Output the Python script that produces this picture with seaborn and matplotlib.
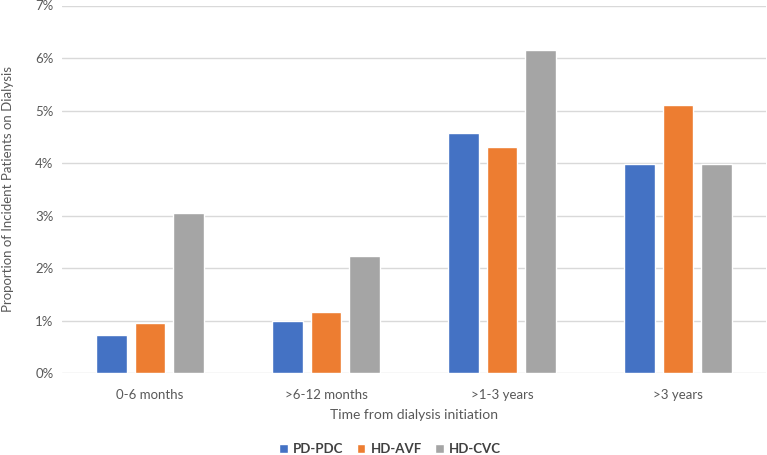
import pandas as pd
import matplotlib.pyplot as plt
import seaborn as sns
from matplotlib.ticker import PercentFormatter
from matplotlib.patches import Patch

# data (percent)
periods = ["0-6 months", ">6-12 months", ">1-3 years", ">3 years"]
access_types = ["PD-PDC", "HD-AVF", "HD-CVC"]
pd_pdc = [0.72, 1.00, 4.57, 3.98]
hd_avf = [0.96, 1.17, 4.30, 5.10]
hd_cvc = [3.05, 2.24, 6.16, 3.98]
colors = ["#4472C4", "#ED7D31", "#A5A5A5"]

rows = []
for name, vals in zip(access_types, [pd_pdc, hd_avf, hd_cvc]):
    for p, v in zip(periods, vals):
        rows.append({"period": p, "access": name, "value": v})
df = pd.DataFrame(rows)

sns.set_style("white")
plt.rcParams["font.family"] = ["Lato", "DejaVu Sans"]

fig = plt.figure(figsize=(7.67, 4.55), dpi=100)
ax = fig.add_axes([62 / 767, 1 - 373.3 / 455, 704 / 767, 367.8 / 455])

sns.barplot(data=df, x="period", y="value", hue="access", order=periods,
            hue_order=access_types, palette=colors, width=0.66, gap=0.2,
            saturation=1, legend=False, ax=ax)

ax.set_ylim(0, 7)
ax.set_yticks(range(0, 8))
ax.yaxis.set_major_formatter(PercentFormatter(decimals=0))
ax.grid(axis="y", color="#d9d9d9", linewidth=1)
ax.set_axisbelow(True)
for s in ax.spines.values():
    s.set_visible(False)
ax.tick_params(axis="both", length=0, labelsize=9.5, colors="#595959", pad=6)
ax.tick_params(axis="x", pad=11)

ax.set_xlabel("Time from dialysis initiation", fontsize=10, color="#595959", labelpad=6)
ax.set_ylabel("Proportion of Incident Patients on Dialysis", fontsize=9.5,
              color="#595959", labelpad=15)

handles = [Patch(facecolor=c, label=n) for c, n in zip(colors, access_types)]
leg = fig.legend(handles=handles, loc="center", bbox_to_anchor=(390 / 767, 1 - 449 / 455),
                 ncol=3, frameon=False, handlelength=0.65, handleheight=0.75,
                 handletextpad=0.4, columnspacing=1.0,
                 prop={"size": 9.5, "weight": "bold"})
for t in leg.get_texts():
    t.set_color("#404040")

fig.savefig("out.png", dpi=100)
